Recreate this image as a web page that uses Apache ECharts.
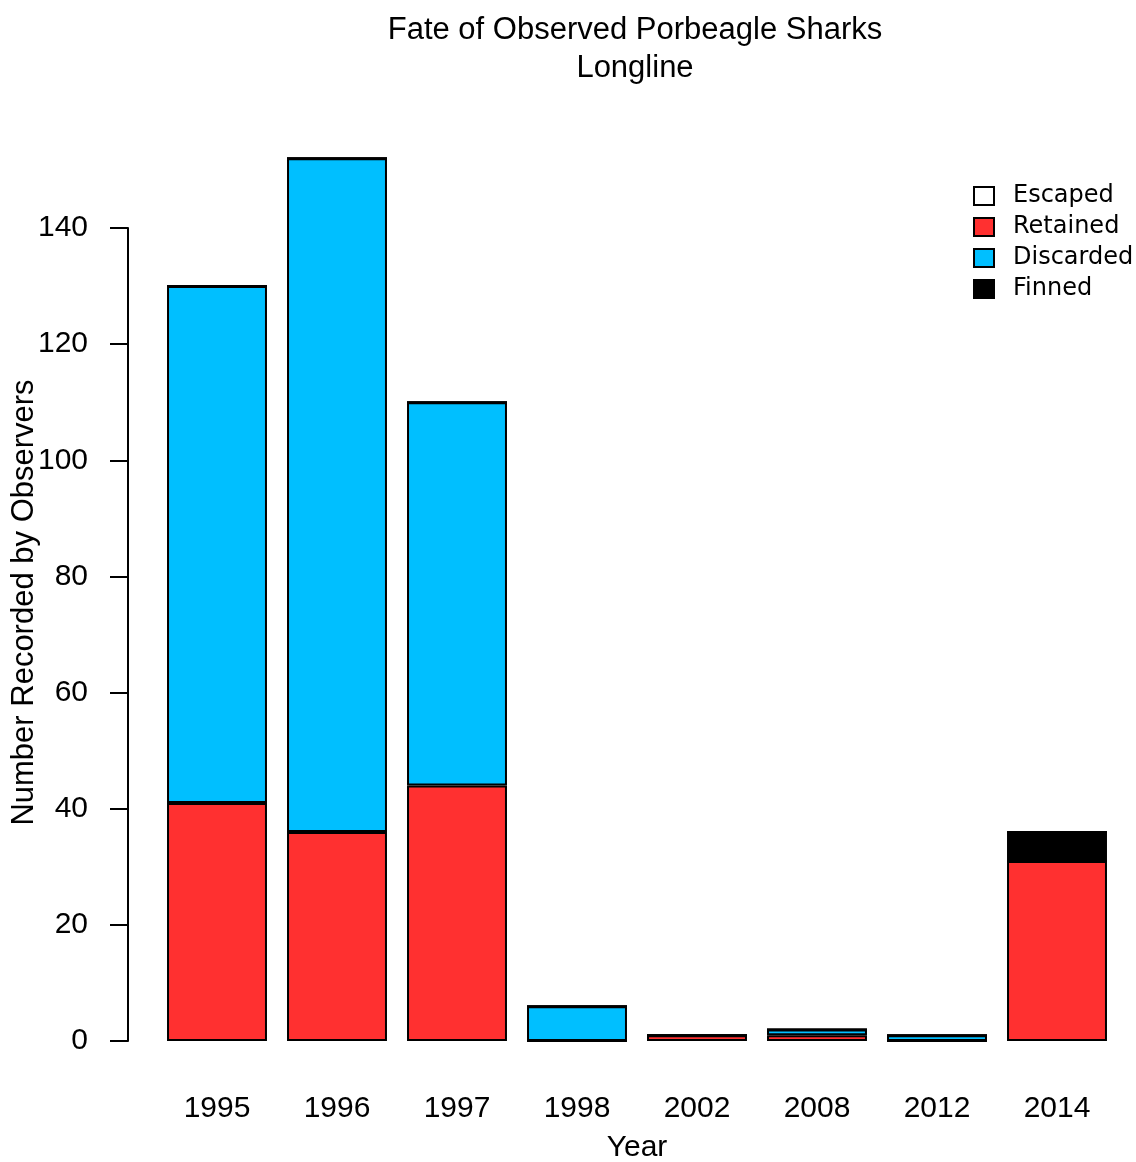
<!DOCTYPE html>
<html>
<head>
<meta charset="utf-8">
<script src="https://cdn.jsdelivr.net/npm/echarts@6/dist/echarts.min.js"></script>
<style>
  html, body { margin: 0; padding: 0; background: #fff; }
  #chart { width: 1136px; height: 1162px; }
</style>
</head>
<body>
<div id="chart"></div>
<script>
// Observed porbeagle sharks on longline trips, by fate and year
const years = ['1995', '1996', '1997', '1998', '2002', '2008', '2012', '2014'];
const retained  = [41, 36, 44, 0, 1, 1, 0, 31];
const discarded = [89, 116, 66, 6, 0, 1, 1, 0];
const finned    = [0, 0, 0, 0, 0, 0, 0, 5];
const escaped   = [0, 0, 0, 0, 0, 0, 0, 0];
const yTicks = [0, 20, 40, 60, 80, 100, 120, 140];

const FONT = '"Liberation Sans", Arial, sans-serif';
const chart = echarts.init(document.getElementById('chart'), null, { renderer: 'canvas' });

function barSeries(name, data, color) {
  return {
    name: name,
    type: 'bar',
    stack: 'fate',
    data: data,
    clip: false,
    barCategoryGap: '16.7%',
    itemStyle: { color: color, borderColor: '#000', borderWidth: 2 },
    emphasis: { disabled: true },
    animation: false
  };
}

chart.setOption({
  animation: false,
  title: {
    text: 'Fate of Observed Porbeagle Sharks\nLongline',
    left: 630,
    top: 6,
    textAlign: 'center',
    textStyle: { fontFamily: FONT, fontSize: 31, fontWeight: 'normal', color: '#000', lineHeight: 38 }
  },
  legend: {
    orient: 'vertical',
    left: 968,
    top: 179,
    itemWidth: 20,
    itemHeight: 18,
    itemGap: 7,
    icon: 'rect',
    selectedMode: false,
    data: ['Escaped', 'Retained', 'Discarded', 'Finned'],
    textStyle: {
      fontFamily: '"DejaVu Sans", Verdana, sans-serif', fontSize: 24, color: '#000',
      padding: [0, 0, 0, 14]
    },
    itemStyle: { borderColor: '#000', borderWidth: 2 }
  },
  grid: { left: 157, right: 19, top: 228, bottom: 121, containLabel: false, outerBoundsMode: 'none' },
  xAxis: {
    type: 'category',
    data: years,
    axisLine: { show: false },
    axisTick: { show: false },
    axisLabel: { margin: 53, fontFamily: FONT, fontSize: 30, color: '#000' },
    name: 'Year',
    nameLocation: 'middle',
    nameGap: 92,
    nameMoveOverlap: false,
    nameTextStyle: { fontFamily: FONT, fontSize: 30, color: '#000' }
  },
  yAxis: {
    type: 'value',
    min: 0,
    max: 140,
    interval: 20,
    offset: 29,
    splitLine: { show: false },
    axisLine: { show: true, lineStyle: { color: '#000', width: 2 } },
    axisTick: { show: true, length: 18, lineStyle: { color: '#000', width: 2 } },
    axisLabel: {
      margin: 40, fontFamily: FONT, fontSize: 30, color: '#000',
      formatter: v => yTicks.includes(v) ? String(v) : ''
    },
    name: 'Number Recorded by Observers',
    nameLocation: 'middle',
    nameGap: 88,
    nameMoveOverlap: false,
    nameTextStyle: { fontFamily: FONT, fontSize: 31, color: '#000', padding: [0, 0, 0, 64] }
  },
  series: [
    barSeries('Retained', retained, '#FF3030'),
    barSeries('Discarded', discarded, '#00BFFF'),
    barSeries('Finned', finned, '#000000'),
    barSeries('Escaped', escaped, '#FFFFFF')
  ]
});
</script>
</body>
</html>
